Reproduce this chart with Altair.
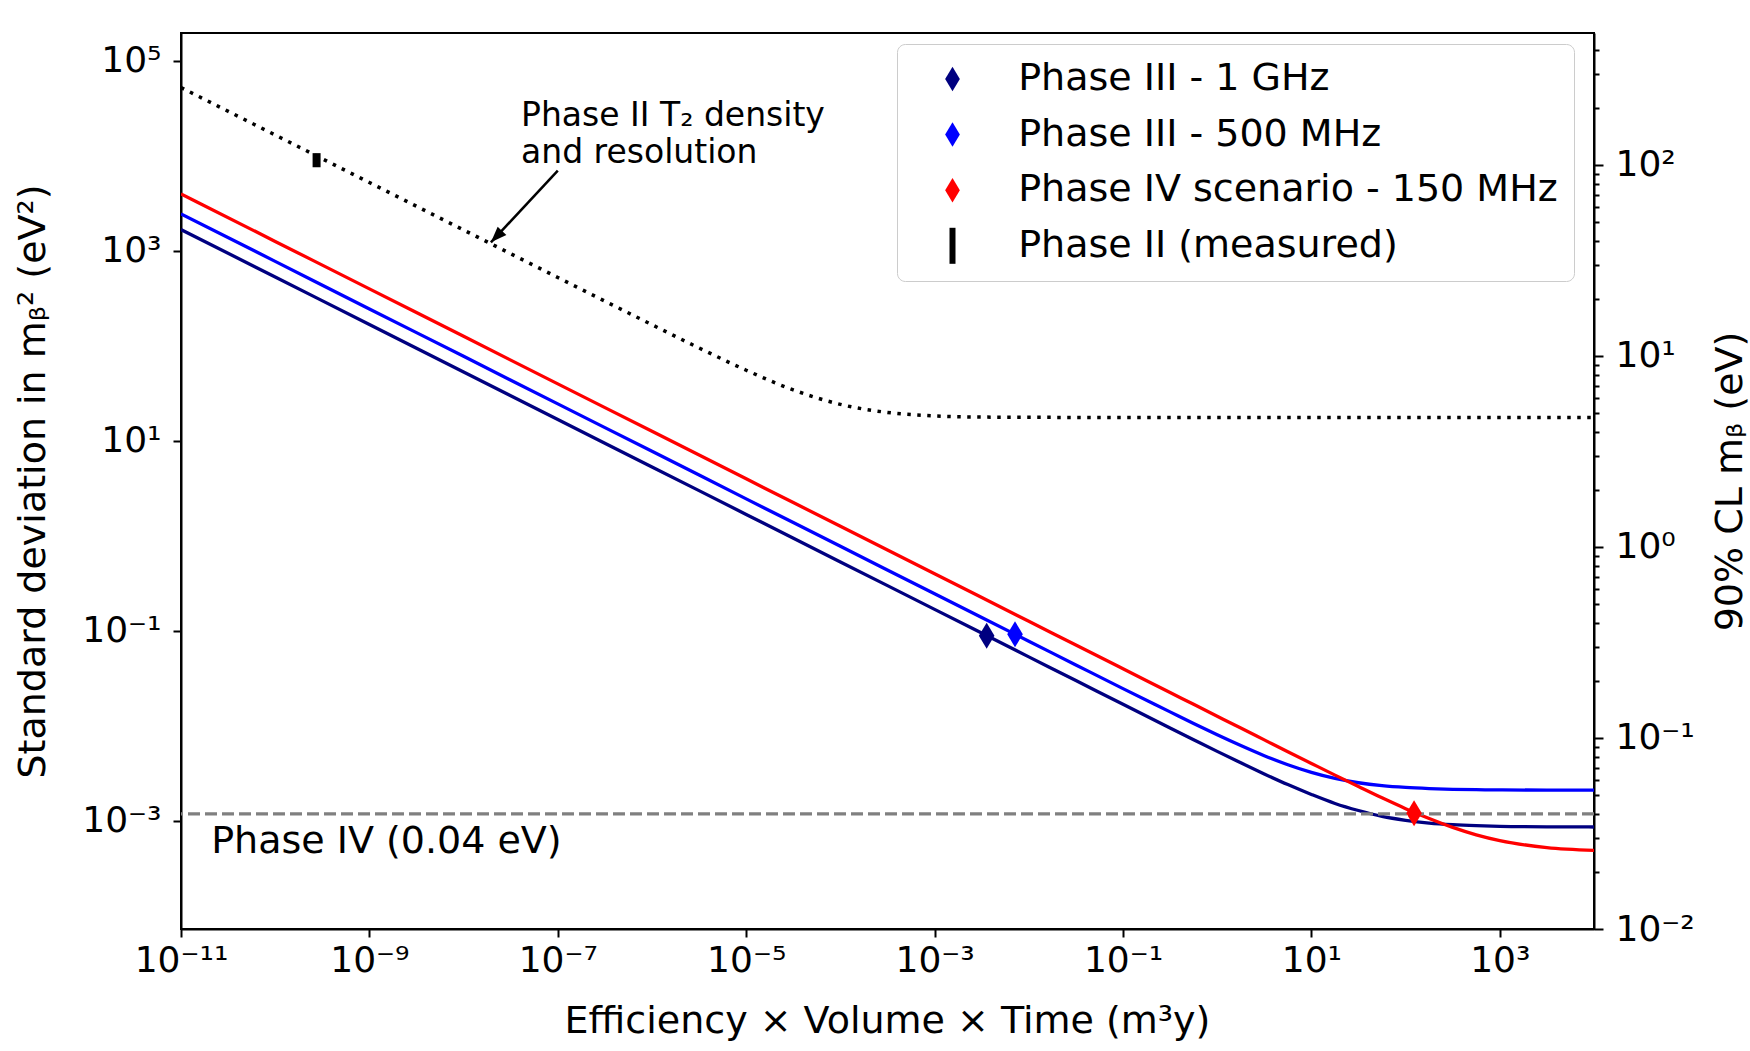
import altair as alt
import pandas as pd

# ---------------- data ----------------
x_curve = [1e-11, 1e-10, 1e-9, 1e-8, 1e-7, 1e-6, 1e-5, 1e-4, 1e-3, 1e-2, 0.0316, 0.1, 0.316, 0.562,
           1, 1.78, 3.16, 5.62, 10, 17.8, 31.6, 56.2, 100, 178, 316, 562, 1000, 3160, 10000]
y_navy = [1679, 531, 168, 53.1, 16.8, 5.31, 1.68, 0.531, 0.168, 0.0531, 0.0299, 0.0168, 0.00948, 0.00713,
          0.00537, 0.00407, 0.00311, 0.00240, 0.00189, 0.00152, 0.00128, 0.00111, 0.00101, 0.000945,
          0.000908, 0.000886, 0.000873, 0.000862, 0.000859]
y_blue = [2455, 776, 245, 77.6, 24.5, 7.76, 2.45, 0.776, 0.245, 0.0777, 0.0437, 0.0246, 0.0140, 0.01056,
          0.00804, 0.00619, 0.00484, 0.00389, 0.00323, 0.00279, 0.00251, 0.00234, 0.00224, 0.00218,
          0.00214, 0.00212, 0.00211, 0.00210, 0.00210]
y_red = [3981, 1259, 398, 126, 39.8, 12.6, 3.98, 1.26, 0.398, 0.126, 0.0708, 0.0398, 0.0224, 0.0168,
         0.0126, 0.00945, 0.0071, 0.00533, 0.00401, 0.00302, 0.00229, 0.00174, 0.00134, 0.001055,
         0.00085, 0.00071, 0.000617, 0.000522, 0.000488]

x_dotted = [1e-11, 1e-10, 1e-9, 1e-8, 1e-7, 1e-6, 3.16e-6, 1e-5, 3.16e-5, 1e-4, 3.16e-4,
            1e-3, 3.16e-3, 1e-2, 0.1, 1, 10, 100, 1000, 10000]
y_dotted = [52500, 16600, 5250, 1660, 525, 167, 95.0, 55.4, 34.4, 24.2, 19.9,
            18.3, 17.8, 17.7, 17.6, 17.6, 17.6, 17.6, 17.6, 17.6]

phase4_level = [1.18e-3]

legend_names = ["Phase III - 1 GHz", "Phase III - 500 MHz",
                "Phase IV scenario - 150 MHz", "Phase II (measured)"]
legend_colors = ["#000080", "#0000ff", "#ff0000", "#000000"]

marker_names = ["Phase III - 1 GHz", "Phase III - 500 MHz", "Phase IV scenario - 150 MHz"]
marker_x = [3.57e-3, 7.14e-3, 123]
marker_y = [0.0888, 0.0918, 1.2e-3]

phase2_x = [2.75e-10]
phase2_lo = [7600]
phase2_hi = [10700]

arrow_x = [1.0e-7, 1.95e-8]     # tail, head
arrow_y = [7000, 1230]

annot_x = [4.07e-8, 4.07e-8, 2.09e-11]
annot_y = [20700, 8380, 4.53e-4]
annot_text = ["Phase II T₂ density", "and resolution", "Phase IV (0.04 eV)"]
annot_size = [33, 33, 38]

x_tick_exps = [-11, -9, -7, -5, -3, -1, 1, 3]
y_tick_exps = [-3, -1, 1, 3, 5]
r_tick_exps = [-2, -1, 0, 1, 2]
r_minor_mult = [1, 2, 3, 4, 5, 6, 7, 8, 9]

x_domain = [1e-11, 1e4]
y_domain = [7.24e-5, 1.97e5]
r_domain = [0.01, 491]

# ---------------- helpers ----------------
SUP = str.maketrans("-0123456789", "⁻⁰¹²³⁴⁵⁶⁷⁸⁹")


def label_expr(exps):
    parts = [f"abs(log(datum.value)/LN10 - ({e})) < 0.01 ? '10{str(e).translate(SUP)}'" for e in exps]
    return " : ".join(parts) + " : ''"


FONT = "DejaVu Sans"

xscale = alt.Scale(type="log", domain=x_domain, nice=False)
yscale = alt.Scale(type="log", domain=y_domain, nice=False)
rscale = alt.Scale(type="log", domain=r_domain, nice=False)

xaxis = alt.Axis(values=[10.0 ** e for e in x_tick_exps], labelExpr=label_expr(x_tick_exps),
                 title="Efficiency × Volume × Time (m³y)", tickSize=8, tickWidth=2,
                 labelPadding=6, labelFontSize=36, titleFontSize=38, labelFlush=False,
                 labelOverlap=False, titleX=706, titleY=103, titleBaseline="alphabetic",
                 titleAlign="center", grid=False, domainWidth=2)
yaxis = alt.Axis(values=[10.0 ** e for e in y_tick_exps], labelExpr=label_expr(y_tick_exps),
                 title="Standard deviation in mᵦ² (eV²)", tickSize=8, tickWidth=2,
                 labelPadding=12, labelFontSize=36, titleFontSize=38, labelFlush=False,
                 labelOverlap=False, titleAngle=270, titleX=-148, titleY=448,
                 titleBaseline="middle", titleAlign="center", grid=False, domainWidth=2)

r_values = [m * 10.0 ** e for e in r_tick_exps for m in r_minor_mult if m * 10.0 ** e <= r_domain[1]]
major_test = "abs(log(datum.value)/LN10 - round(log(datum.value)/LN10)) < 0.001"
raxis = alt.Axis(orient="right", values=r_values, labelExpr=label_expr(r_tick_exps),
                 tickSize={"condition": {"test": major_test, "value": 9}, "value": 5},
                 tickWidth=2, labelPadding=12, labelFontSize=36, titleFontSize=38,
                 title="90% CL mᵦ (eV)", titleAngle=270, titleX=136, titleY=448,
                 titleBaseline="middle", titleAlign="center", labelFlush=False,
                 labelOverlap=False, grid=False, domainWidth=2)

# ---------------- layers ----------------
curves = pd.concat([
    pd.DataFrame({"x": x_curve, "y": y_navy, "series": "navy", "col": "#000080"}),
    pd.DataFrame({"x": x_curve, "y": y_blue, "series": "blue", "col": "#0000ff"}),
    pd.DataFrame({"x": x_curve, "y": y_red, "series": "red", "col": "#ff0000"}),
])

X = alt.X("x:Q", scale=xscale, axis=xaxis)
Y = alt.Y("y:Q", scale=yscale, axis=yaxis)

lines = alt.Chart(curves).mark_line(strokeWidth=3.3, clip=True, interpolate="monotone").encode(
    x=X, y=Y, color=alt.Color("col:N", scale=None), detail="series:N")

dotted = alt.Chart(pd.DataFrame({"x": x_dotted, "y": y_dotted})).mark_line(
    color="black", strokeWidth=3.5, strokeDash=[3.5, 6.5], clip=True,
    interpolate="monotone").encode(x=X, y=Y)

dashed = alt.Chart(pd.DataFrame({"y": phase4_level})).mark_rule(
    color="#808080", strokeWidth=3.3, strokeDash=[12, 5]).encode(y=Y)

phase2 = alt.Chart(pd.DataFrame({"x": phase2_x, "y": phase2_lo, "y2": phase2_hi})).mark_rule(
    color="black", strokeWidth=8, strokeCap="butt").encode(x=X, y=Y, y2="y2:Q")

arrow_line = alt.Chart(pd.DataFrame({"x": arrow_x, "y": arrow_y})).mark_line(
    color="black", strokeWidth=2.5).encode(x=X, y=Y)
arrow_head = alt.Chart(pd.DataFrame({"x": arrow_x[1:], "y": arrow_y[1:]})).mark_point(
    shape="M0,0L-0.53,1.4L0.53,1.4Z", filled=True, size=520, angle=224,
    color="black", opacity=1).encode(x=X, y=Y)

diamond = "M0,-1L0.6,0L0,1L-0.6,0Z"
bar = "M-0.245,-1.47L0.245,-1.47L0.245,1.47L-0.245,1.47Z"
legend = alt.Legend(orient="none", legendX=716, legendY=11, title=None, direction="vertical",
                    labelFontSize=38, labelFont=FONT, labelLimit=1000, symbolSize=600,
                    symbolOffset=20.5, labelOffset=46.7, padding=16, rowPadding=17.6,
                    fillColor="white", strokeColor="#cccccc", cornerRadius=8,
                    symbolStrokeWidth=0, labelColor="black")
markers = alt.Chart(pd.DataFrame({"x": marker_x, "y": marker_y, "series": marker_names})).mark_point(
    filled=True, size=676, opacity=1, strokeWidth=0).encode(
    x=X, y=Y,
    color=alt.Color("series:N", scale=alt.Scale(domain=legend_names, range=legend_colors), legend=legend),
    shape=alt.Shape("series:N", scale=alt.Scale(domain=legend_names, range=[diamond, diamond, diamond, bar]),
                    legend=legend))

texts = alt.Chart(pd.DataFrame({"x": annot_x, "y": annot_y, "t": annot_text, "s": annot_size})).mark_text(
    align="left", baseline="alphabetic", font=FONT, color="black").encode(
    x=X, y=Y, text="t:N", size=alt.Size("s:Q", scale=None))

right = alt.Chart(pd.DataFrame({"v": [10.0 ** e for e in r_tick_exps]})).mark_point(opacity=0).encode(
    y=alt.Y("v:Q", scale=rscale, axis=raxis))

main = alt.layer(lines, dashed, dotted, phase2, arrow_line, arrow_head, markers, texts)

chart = alt.layer(main, right).resolve_scale(y="independent").properties(
    width=1413, height=896,
    autosize=alt.AutoSizeParams(type="none"),
    padding={"left": 181, "top": 33, "right": 156, "bottom": 122},
    background="white",
).configure(font=FONT).configure_axis(
    labelFont=FONT, titleFont=FONT, labelColor="black", titleColor="black",
    domainColor="black", tickColor="black", titleFontWeight="normal"
).configure_view(stroke="black", strokeWidth=2)

chart.save("out.html", embed_options={"renderer": "svg", "actions": False})
